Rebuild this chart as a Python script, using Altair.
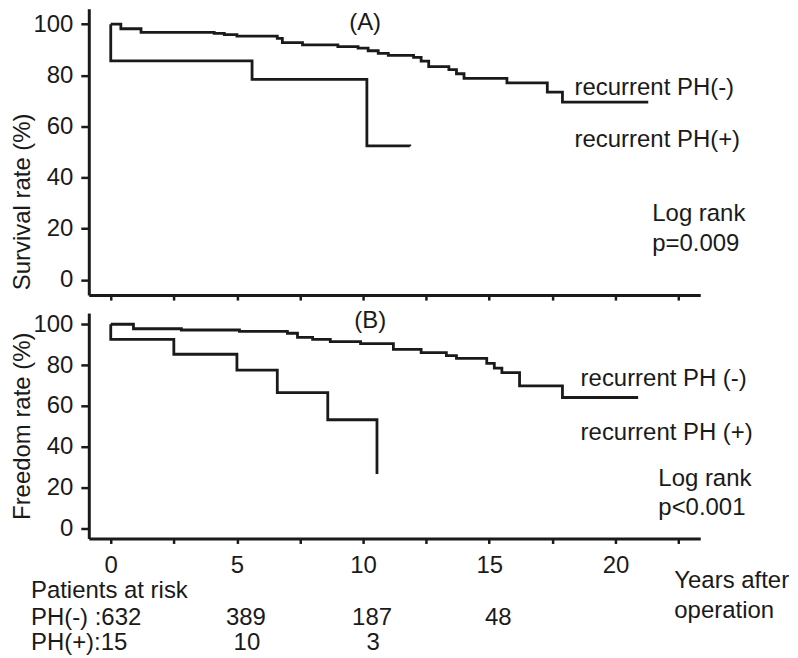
import altair as alt
import pandas as pd

# ---------------- data ----------------
# Panel A: survival
a_neg_t = [0, 0.4, 1.2, 4.1, 4.5, 5.0, 6.6, 6.8, 7.6, 9.0, 9.8, 10.2, 10.6, 11.0,
           12.0, 12.3, 12.6, 13.4, 13.7, 14.0, 15.7, 17.3, 17.9, 21.3]
a_neg_s = [100, 98.2, 96.8, 96.4, 95.9, 95.3, 94.4, 92.8, 91.9, 91.2, 90.6, 89.6, 88.6, 87.8,
           87.0, 85.5, 83.4, 82.2, 80.6, 78.8, 77.0, 73.4, 69.5, 69.5]
a_pos_t = [0, 0, 5.6, 10.15, 11.85]
a_pos_s = [100, 85.6, 78.4, 52.4, 52.2]

# Panel B: freedom
b_neg_t = [0, 0.9, 2.8, 5.1, 7.0, 7.4, 8.0, 8.7, 9.9, 11.2, 12.3, 13.3, 13.7, 14.9,
           15.2, 15.5, 16.2, 17.9, 20.9]
b_neg_s = [100, 97.8, 97.2, 96.5, 95.6, 93.6, 92.6, 91.5, 90.5, 87.7, 86.1, 84.6, 83.3, 80.8,
           78.5, 76.3, 69.8, 64.1, 64.1]
b_pos_t = [0, 0, 2.5, 5.0, 6.6, 8.6, 10.55]
b_pos_s = [100, 92.6, 85.3, 77.5, 66.5, 53.2, 26.6]

x_ticks = [0, 2.5, 5, 7.5, 10, 12.5, 15, 17.5, 20, 22.5]
y_ticks = [0, 10, 20, 30, 40, 50, 60, 70, 80, 90, 100]

# annotations (data units)
a_lab_text = ["recurrent PH(-)", "recurrent PH(+)", "Log rank", "p=0.009"]
a_lab_x = [18.38, 18.38, 21.46, 21.46]
a_lab_y = [75.2, 54.5, 25.6, 13.9]
b_lab_text = ["recurrent PH (-)", "recurrent PH (+)", "Log rank", "p<0.001"]
b_lab_x = [18.62, 18.62, 21.7, 21.7]
b_lab_y = [73.2, 46.8, 24.3, 9.7]

# patients at risk
risk_title = "Patients at risk"
risk_neg_label = "PH(-) :632"
risk_pos_label = "PH(+):15"
risk_years = [5, 10, 15]
risk_neg = ["389", "187", "48"]
risk_pos_years = [5, 10]
risk_pos = ["10", "3"]
x_title_lines = ["Years after", "operation"]

INK = "#1a1a1a"
FONT = "Liberation Sans"
FS = 24

xs = alt.Scale(domain=[-0.87, 23.36], nice=False, zero=False)
ys_a = alt.Scale(domain=[-6, 106], nice=False, zero=False)
ys_b = alt.Scale(domain=[-5, 105.5], nice=False, zero=False)

minor_tick = {"condition": {"test": "datum.value % 20 === 0", "value": 8}, "value": 5}


def curves(tn, sn, tp, sp):
    rows = [{"x": t, "y": s, "g": "neg", "o": i} for i, (t, s) in enumerate(zip(tn, sn))]
    rows += [{"x": t, "y": s, "g": "pos", "o": i} for i, (t, s) in enumerate(zip(tp, sp))]
    return pd.DataFrame(rows)


def panel(df, ys, ytitle, title_y, x_labels, labels_df, letter, letter_xy):
    xaxis = alt.Axis(values=x_ticks, tickSize=5, labelPadding=10, labelAngle=0,
                     labelFlush=False, labelOverlap=False, title=None,
                     labels=x_labels,
                     labelExpr="datum.value % 5 === 0 ? datum.label : ''")
    yaxis = alt.Axis(values=y_ticks, tickSize=minor_tick, labelPadding=8,
                     labelFlush=False, labelOverlap=False,
                     labelExpr="datum.value % 20 === 0 ? datum.label : ''",
                     title=ytitle, titleX=-54, titleY=title_y, titleAngle=270,
                     titleAlign="center", titleBaseline="bottom")
    lines = alt.Chart(df).mark_line(interpolate="step-after", color=INK,
                                    strokeWidth=2.8).encode(
        x=alt.X("x:Q", scale=xs, axis=xaxis),
        y=alt.Y("y:Q", scale=ys, axis=yaxis),
        detail="g:N",
        order="o:Q",
    )
    labels = alt.Chart(labels_df).mark_text(align="left", baseline="middle",
                                            font=FONT, fontSize=FS, color=INK).encode(
        x=alt.X("x:Q", scale=xs),
        y=alt.Y("y:Q", scale=ys),
        text="text:N",
    )
    let = alt.Chart(pd.DataFrame({"x": [letter_xy[0]], "y": [letter_xy[1]], "text": [letter]})
                    ).mark_text(align="center", baseline="middle", font=FONT,
                                fontSize=FS, color=INK).encode(
        x=alt.X("x:Q", scale=xs),
        y=alt.Y("y:Q", scale=ys),
        text="text:N",
    )
    return [lines, labels, let]


a_df = curves(a_neg_t, a_neg_s, a_pos_t, a_pos_s)
b_df = curves(b_neg_t, b_neg_s, b_pos_t, b_pos_s)
a_labels = pd.DataFrame({"x": a_lab_x, "y": a_lab_y, "text": a_lab_text})
b_labels = pd.DataFrame({"x": b_lab_x, "y": b_lab_y, "text": b_lab_text})

top_layers = panel(a_df, ys_a, "Survival rate (%)", 193, False, a_labels, "(A)", (10.08, 100.3))
bot_layers = panel(b_df, ys_b, "Freedom rate (%)", 113, True, b_labels, "(B)", (10.28, 101.6))

# table below panel B (pixel rows relative to panel B plot top)
txt = dict(font=FONT, fontSize=FS, color=INK, baseline="middle")


def fixed_text(s, xpx, ypx, align="left"):
    return alt.Chart(pd.DataFrame({"text": [s]})).mark_text(align=align, **txt).encode(
        x=alt.value(xpx), y=alt.value(ypx), text="text:N")


table = [
    fixed_text(risk_title, -58, 279),
    fixed_text(risk_neg_label, -58, 306),
    fixed_text(risk_pos_label, -58, 331),
    fixed_text(x_title_lines[0], 587, 269),
    fixed_text(x_title_lines[1], 587, 299),
    alt.Chart(pd.DataFrame({"x": risk_years, "text": risk_neg})).mark_text(
        align="center", dx=9, **txt).encode(
        x=alt.X("x:Q", scale=xs), y=alt.value(306), text="text:N"),
    alt.Chart(pd.DataFrame({"x": risk_pos_years, "text": risk_pos})).mark_text(
        align="center", dx=10, **txt).encode(
        x=alt.X("x:Q", scale=xs), y=alt.value(331), text="text:N"),
]

top = alt.layer(*top_layers).properties(width=613, height=287)
bottom = alt.layer(*bot_layers, *table).properties(width=613, height=226)

chart = alt.vconcat(top, bottom, spacing=18, bounds="flush").properties(
    padding={"left": 2, "top": 0, "right": 0, "bottom": 0}
).configure_view(stroke=None).configure_axis(
    grid=False, domainColor=INK, domainWidth=3, tickColor=INK, tickWidth=2.5,
    labelFont=FONT, labelFontSize=FS, labelColor=INK,
    titleFont=FONT, titleFontSize=FS, titleFontWeight="normal", titleColor=INK,
)

chart.save("out.html", embed_options={"renderer": "svg", "actions": False})
